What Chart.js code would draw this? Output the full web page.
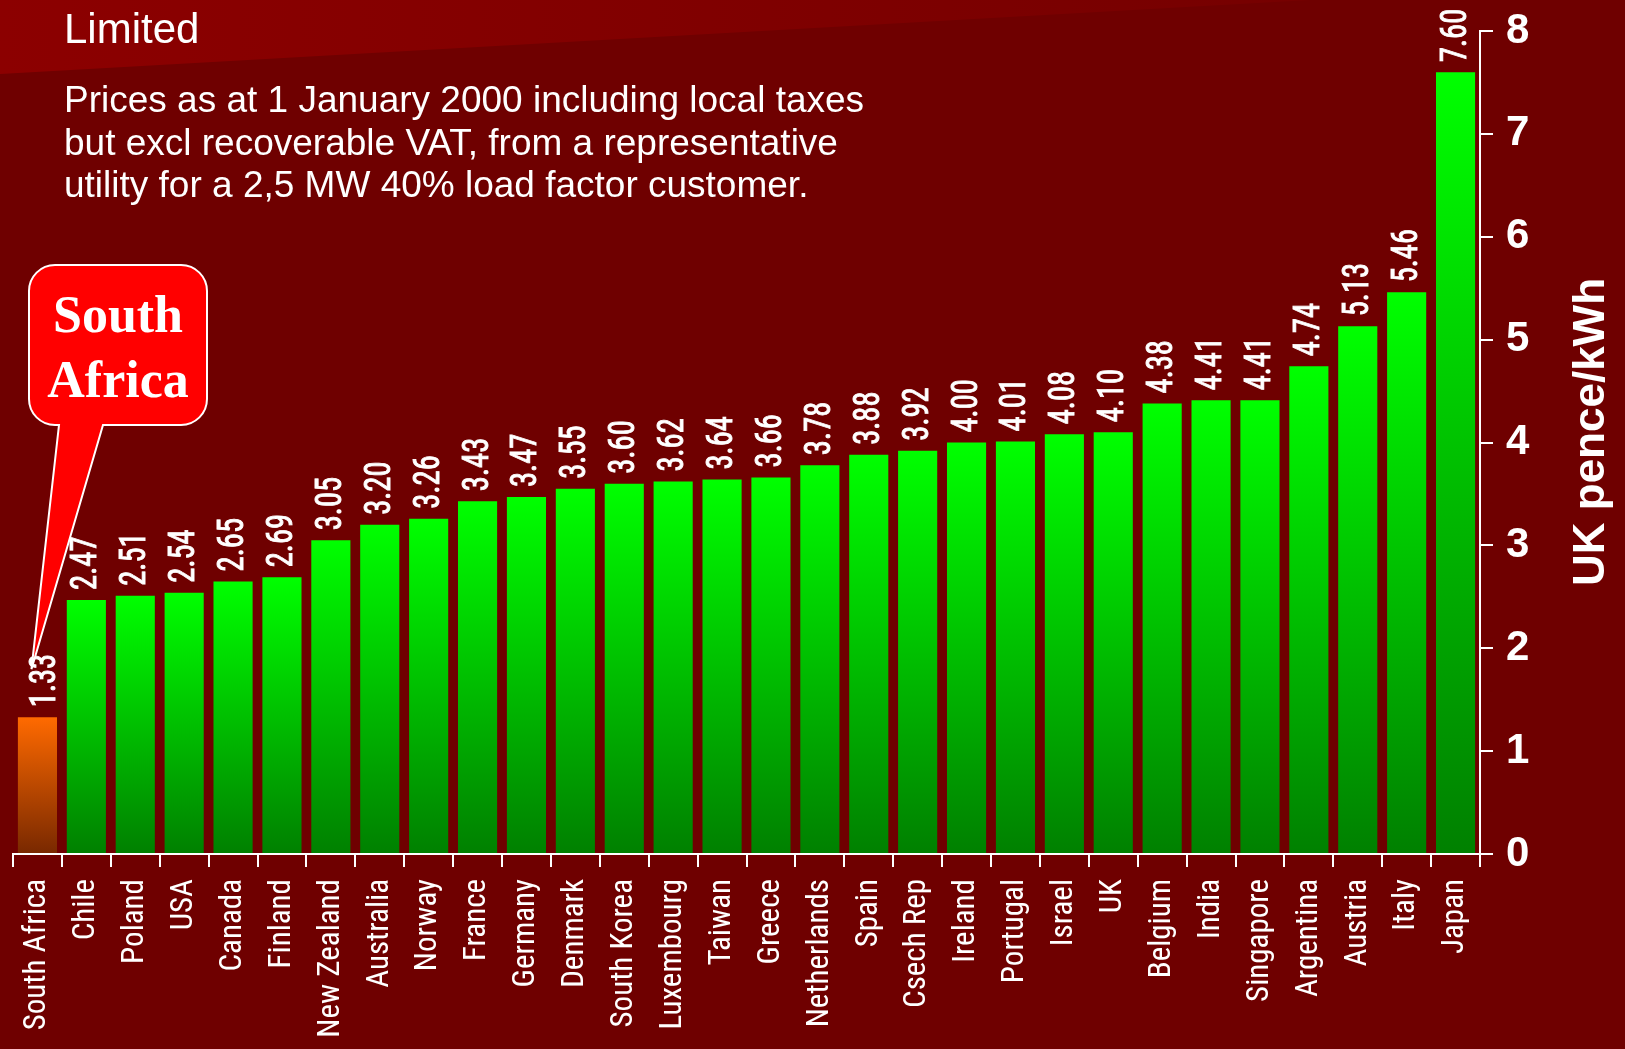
<!DOCTYPE html>
<html>
<head>
<meta charset="utf-8">
<title>Industrial electricity prices</title>
<script src="https://cdn.jsdelivr.net/npm/chart.js@4.4.1/dist/chart.umd.min.js"></script>
<style>
    html, body { margin: 0; padding: 0; background: #6f0000; overflow: hidden; }
    #wrap { position: relative; width: 1625px; height: 1049px; }
</style>
</head>
<body>
<div id="wrap"><canvas id="priceChart" width="1625" height="1049"></canvas></div>
<script>
// data
const countries = ['South Africa', 'Chile', 'Poland', 'USA', 'Canada', 'Finland', 'New Zealand',
    'Australia', 'Norway', 'France', 'Germany', 'Denmark', 'South Korea', 'Luxembourg', 'Taiwan',
    'Greece', 'Netherlands', 'Spain', 'Csech Rep', 'Ireland', 'Portugal', 'Israel', 'UK', 'Belgium',
    'India', 'Singapore', 'Argentina', 'Austria', 'Italy', 'Japan'];
const prices = [1.33, 2.47, 2.51, 2.54, 2.65, 2.69, 3.05, 3.20, 3.26, 3.43, 3.47, 3.55, 3.60, 3.62,
    3.64, 3.66, 3.78, 3.88, 3.92, 4.00, 4.01, 4.08, 4.10, 4.38, 4.41, 4.41, 4.74, 5.13, 5.46, 7.60];
const yTickValues = [0, 1, 2, 3, 4, 5, 6, 7, 8];

const headline = 'Limited';
const subtitleLines = [
    'Prices as at 1 January 2000 including local taxes',
    'but excl recoverable VAT, from a representative',
    'utility for a 2,5 MW 40% load factor customer.'
];
const calloutLines = ['South', 'Africa'];
const axisTitle = 'UK pence/kWh';

// gradient per bar, top of the bar to the base line
function barFill(context) {
    const chart = context.chart;
    const first = context.dataIndex === 0;
    if (!chart.chartArea || !chart.scales.y) return first ? '#ff6600' : '#00ff00';
    const yScale = chart.scales.y;
    const top = yScale.getPixelForValue(prices[context.dataIndex]);
    const bottom = yScale.getPixelForValue(0);
    const g = chart.ctx.createLinearGradient(0, top, 0, bottom);
    if (first) {
        g.addColorStop(0, '#ff6a00');
        g.addColorStop(1, '#782800');
    } else {
        g.addColorStop(0, '#00ff00');
        g.addColorStop(1, '#008000');
    }
    return g;
}

// slide background + heading text
const slideBackground = {
    id: 'slideBackground',
    beforeDraw(chart) {
        const ctx = chart.ctx;
        const w = chart.width, h = chart.height;
        ctx.save();
        ctx.fillStyle = '#6f0000';
        ctx.fillRect(0, 0, w, h);
        const band = ctx.createLinearGradient(0, 0, 1300, 0);
        band.addColorStop(0, '#8c0000');
        band.addColorStop(1, '#760000');
        ctx.fillStyle = band;
        ctx.beginPath();
        ctx.moveTo(0, 0);
        ctx.lineTo(1310, 0);
        ctx.lineTo(0, 74);
        ctx.closePath();
        ctx.fill();

        ctx.fillStyle = '#ffffff';
        ctx.textAlign = 'left';
        ctx.textBaseline = 'alphabetic';
        ctx.font = '42px "Liberation Sans", Arial, sans-serif';
        ctx.fillText(headline, 64, 43);
        ctx.font = '37px "Liberation Sans", Arial, sans-serif';
        subtitleLines.forEach((line, i) => ctx.fillText(line, 64, 112 + i * 42.5));
        ctx.restore();
    }
};

// numbers above the bars, rotated (narrow, like the slide font)
const valueLabels = {
    id: 'valueLabels',
    afterDatasetsDraw(chart) {
        const ctx = chart.ctx;
        const meta = chart.getDatasetMeta(0);
        ctx.save();
        ctx.fillStyle = '#ffffff';
        ctx.strokeStyle = '#ffffff';
        ctx.lineWidth = 0.9;
        ctx.font = '36px "Roboto Condensed", sans-serif';
        ctx.textAlign = 'left';
        ctx.textBaseline = 'middle';
        meta.data.forEach((bar, i) => {
            const txt = prices[i].toFixed(2);
            ctx.save();
            ctx.translate(bar.x + (i === 0 ? 9 : 1), bar.y - 10);
            ctx.rotate(-Math.PI / 2);
            ctx.scale(0.85, 1);
            ctx.fillText(txt, 0, 0);
            ctx.strokeText(txt, 0, 0);
            ctx.restore();
        });
        ctx.restore();
    }
};

// speech bubble + right axis title
const calloutAndTitle = {
    id: 'calloutAndTitle',
    afterDraw(chart) {
        const ctx = chart.ctx;
        const xs = chart.scales.x, ys = chart.scales.y;
        const tipX = xs.getPixelForValue(0) - 6;
        const tipY = ys.getPixelForValue(prices[0]) - 48;
        const L = 29, T = 265, R = 207, B = 425, r = 26;

        ctx.save();
        ctx.beginPath();
        ctx.moveTo(L + r, T);
        ctx.arcTo(R, T, R, B, r);
        ctx.arcTo(R, B, L, B, r);
        ctx.lineTo(103, B);
        ctx.lineTo(tipX, tipY);
        ctx.lineTo(59, B);
        ctx.arcTo(L, B, L, T, r);
        ctx.arcTo(L, T, R, T, r);
        ctx.closePath();
        ctx.fillStyle = '#ff0000';
        ctx.fill();
        ctx.strokeStyle = '#ffffff';
        ctx.lineWidth = 2;
        ctx.stroke();

        ctx.fillStyle = '#ffffff';
        ctx.textAlign = 'center';
        ctx.textBaseline = 'alphabetic';
        ctx.font = 'bold 52px "Liberation Serif", "Times New Roman", serif';
        ctx.fillText(calloutLines[0], 118, 332);
        ctx.fillText(calloutLines[1], 118, 397);

        ctx.translate(1604, 432);
        ctx.rotate(-Math.PI / 2);
        ctx.font = 'bold 44px "Liberation Sans", Arial, sans-serif';
        ctx.fillText(axisTitle, 0, 0);
        ctx.restore();
    }
};

const chart = new Chart(document.getElementById('priceChart'), {
    type: 'bar',
    data: {
        labels: countries,
        datasets: [{
            data: prices,
            backgroundColor: barFill,
            borderWidth: 0,
            barPercentage: 0.8,
            categoryPercentage: 1.0
        }]
    },
    options: {
        responsive: false,
        animation: false,
        layout: { padding: { left: 13, top: 31, right: 0, bottom: 0 } },
        plugins: {
            legend: { display: false },
            tooltip: { enabled: false }
        },
        scales: {
            x: {
                grid: { drawOnChartArea: false, tickLength: 13, color: '#ffffff', lineWidth: 2 },
                border: { color: '#ffffff', width: 2 },
                ticks: {
                    color: '#ffffff',
                    font: { family: 'Roboto Condensed', size: 31 },
                    minRotation: 90,
                    maxRotation: 90,
                    autoSkip: false,
                    padding: 12
                },
                afterFit(scale) { scale.height = 195; }
            },
            y: {
                position: 'right',
                min: 0,
                max: 8,
                afterBuildTicks(scale) { scale.ticks = yTickValues.map(v => ({ value: v })); },
                grid: { drawOnChartArea: false, tickLength: 13, color: '#ffffff', lineWidth: 2 },
                border: { color: '#ffffff', width: 2 },
                ticks: {
                    color: '#ffffff',
                    font: { family: 'Liberation Sans', size: 42, weight: 'bold', lineHeight: 0.85 },
                    padding: 13
                },
                afterFit(scale) { scale.width = 145; }
            }
        }
    },
    plugins: [slideBackground, valueLabels, calloutAndTitle]
});
</script>
</body>
</html>
